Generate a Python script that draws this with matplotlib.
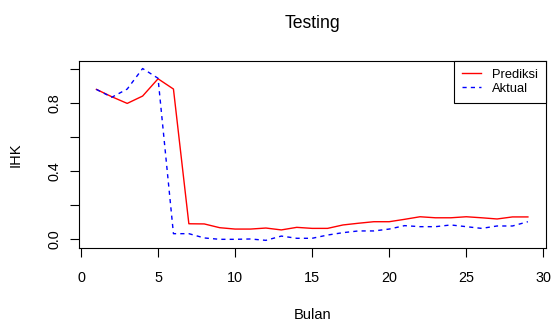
import matplotlib
matplotlib.use("Agg")
import matplotlib.pyplot as plt

plt.rcParams['font.family'] = ['Liberation Sans', 'DejaVu Sans']

# data
bulan = list(range(1, 30))
prediksi = [0.878, 0.835, 0.796, 0.839, 0.940, 0.880, 0.092, 0.091, 0.069, 0.061,
            0.061, 0.067, 0.056, 0.071, 0.065, 0.065, 0.085, 0.095, 0.104, 0.104,
            0.118, 0.133, 0.127, 0.127, 0.133, 0.127, 0.120, 0.132, 0.132]
aktual = [0.878, 0.832, 0.880, 1.000, 0.943, 0.034, 0.034, 0.009, 0.001, 0.001,
          0.003, -0.005, 0.020, 0.007, 0.007, 0.026, 0.040, 0.050, 0.050, 0.061,
          0.081, 0.075, 0.075, 0.085, 0.075, 0.065, 0.079, 0.079, 0.104]
x_ticks = [0, 5, 10, 15, 20, 25, 30]
y_ticks = [0.0, 0.2, 0.4, 0.6, 0.8, 1.0]
y_tick_labels = ['0.0', '', '0.4', '', '0.8', '']

fig = plt.figure(figsize=(5.52, 3.24), dpi=100)
ax = fig.add_axes([0.1440, 0.2355, 0.8446, 0.5762])

ax.plot(bulan, prediksi, color='#ff0000', lw=1.0, label='Prediksi')
ax.plot(bulan, aktual, color='#0000ff', lw=1.0, dashes=(3, 3), label='Aktual')

ax.set_xlim(-0.097, 30.156)
ax.set_ylim(-0.048, 1.044)
ax.set_xticks(x_ticks)
ax.set_yticks(y_ticks)
ax.set_yticklabels(y_tick_labels)

for sp in ax.spines.values():
    sp.set_linewidth(0.8)
    sp.set_color('black')

ax.tick_params(axis='both', length=6.2, width=0.8, labelsize=10.4, colors='black')
ax.tick_params(axis='x', pad=10.5)
ax.tick_params(axis='y', pad=7, labelrotation=90)
for lab in ax.get_yticklabels():
    lab.set_va('center')

fig.text(0.566, 0.9145, 'Testing', ha='center', va='baseline', fontsize=12.7)
ax.set_xlabel('Bulan', fontsize=10.5)
ax.xaxis.set_label_coords(0.5, -0.323)
ax.set_ylabel('IHK', fontsize=10.5)
ax.yaxis.set_label_coords(-0.121, 0.5)

leg = ax.legend(loc='upper right', bbox_to_anchor=(1, 1), borderaxespad=0,
                fontsize=9.3, handlelength=1.47, handletextpad=0.85,
                borderpad=0.6, labelspacing=0.15, fancybox=False,
                framealpha=1, edgecolor='black')
leg.get_frame().set_linewidth(0.8)

fig.savefig('out.png', dpi=100)
